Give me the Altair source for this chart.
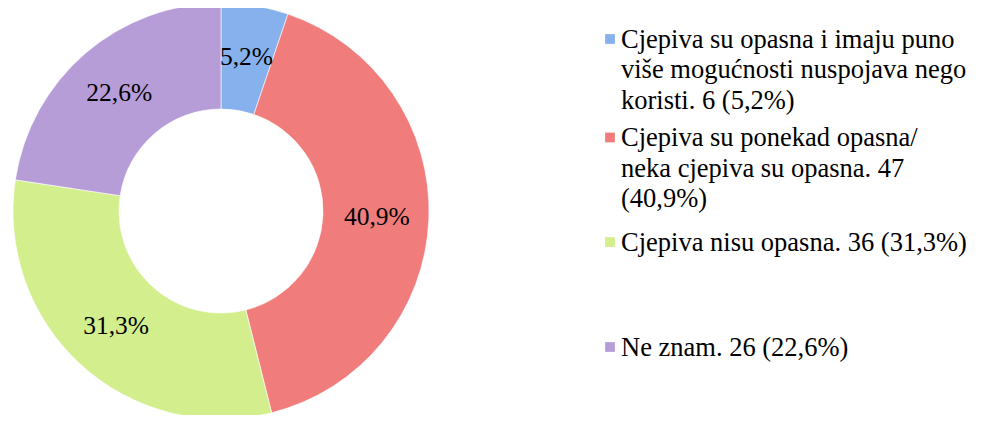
import altair as alt
import pandas as pd

categories = [
    "Cjepiva su opasna i imaju puno više mogućnosti nuspojava nego koristi.",
    "Cjepiva su ponekad opasna/ neka cjepiva su opasna.",
    "Cjepiva nisu opasna.",
    "Ne znam.",
]
counts = [6, 47, 36, 26]
percents = [5.2, 40.9, 31.3, 22.6]
legend_lines = [
    "Cjepiva su opasna i imaju puno\nviše mogućnosti nuspojava nego\nkoristi. 6 (5,2%)",
    "Cjepiva su ponekad opasna/\nneka cjepiva su opasna. 47\n(40,9%)",
    "Cjepiva nisu opasna. 36 (31,3%)",
    "Ne znam. 26 (22,6%)",
]
colors = ["#86b1ec", "#f07c7c", "#d3ee8c", "#b69dd8"]

df = pd.DataFrame({
    "cat": categories,
    "count": counts,
    "pct": percents,
    "order": list(range(len(categories))),
    "label": [f"{p:.1f}%".replace(".", ",") for p in percents],
    "legend": legend_lines,
})

FONT = "Liberation Serif"
cx, cy = 213, 203

color = alt.Color("cat:N", scale=alt.Scale(domain=categories, range=colors), legend=None)

arcs = alt.Chart(df).mark_arc(radius=208, radius2=102, stroke="#ffffff", strokeWidth=0.6).encode(
    theta=alt.Theta("count:Q", stack=True),
    order=alt.Order("order:Q"),
    color=color,
    x=alt.value(cx),
    y=alt.value(cy),
)

labels = alt.Chart(df).mark_text(radius=156, font=FONT, fontSize=25.5, color="#000000").encode(
    theta=alt.Theta("count:Q", stack=True),
    order=alt.Order("order:Q"),
    text="label:N",
    x=alt.value(cx),
    y=alt.value(cy),
)

# legend entries placed via a piecewise scale on the entry index
leg_y = alt.Y("order:Q", scale=alt.Scale(domain=[0, 1, 2, 3], range=[31, 129.5, 234, 339]), axis=None)

leg_sq = alt.Chart(df).mark_square(size=95, opacity=1).encode(
    x=alt.value(602),
    y=leg_y,
    color=color,
)

leg_txt = alt.Chart(df).mark_text(
    font=FONT, fontSize=26.5, align="left", baseline="alphabetic", lineBreak="\n",
    lineHeight=30.5, dy=8.5, color="#000000"
).encode(
    x=alt.value(613),
    y=leg_y,
    text="legend:N",
)

chart = alt.layer(arcs, labels, leg_sq, leg_txt).properties(
    width=966, height=407, padding=0, autosize="none"
).configure_view(stroke=None)

chart.save("out.html", embed_options={"renderer": "svg", "actions": False})
